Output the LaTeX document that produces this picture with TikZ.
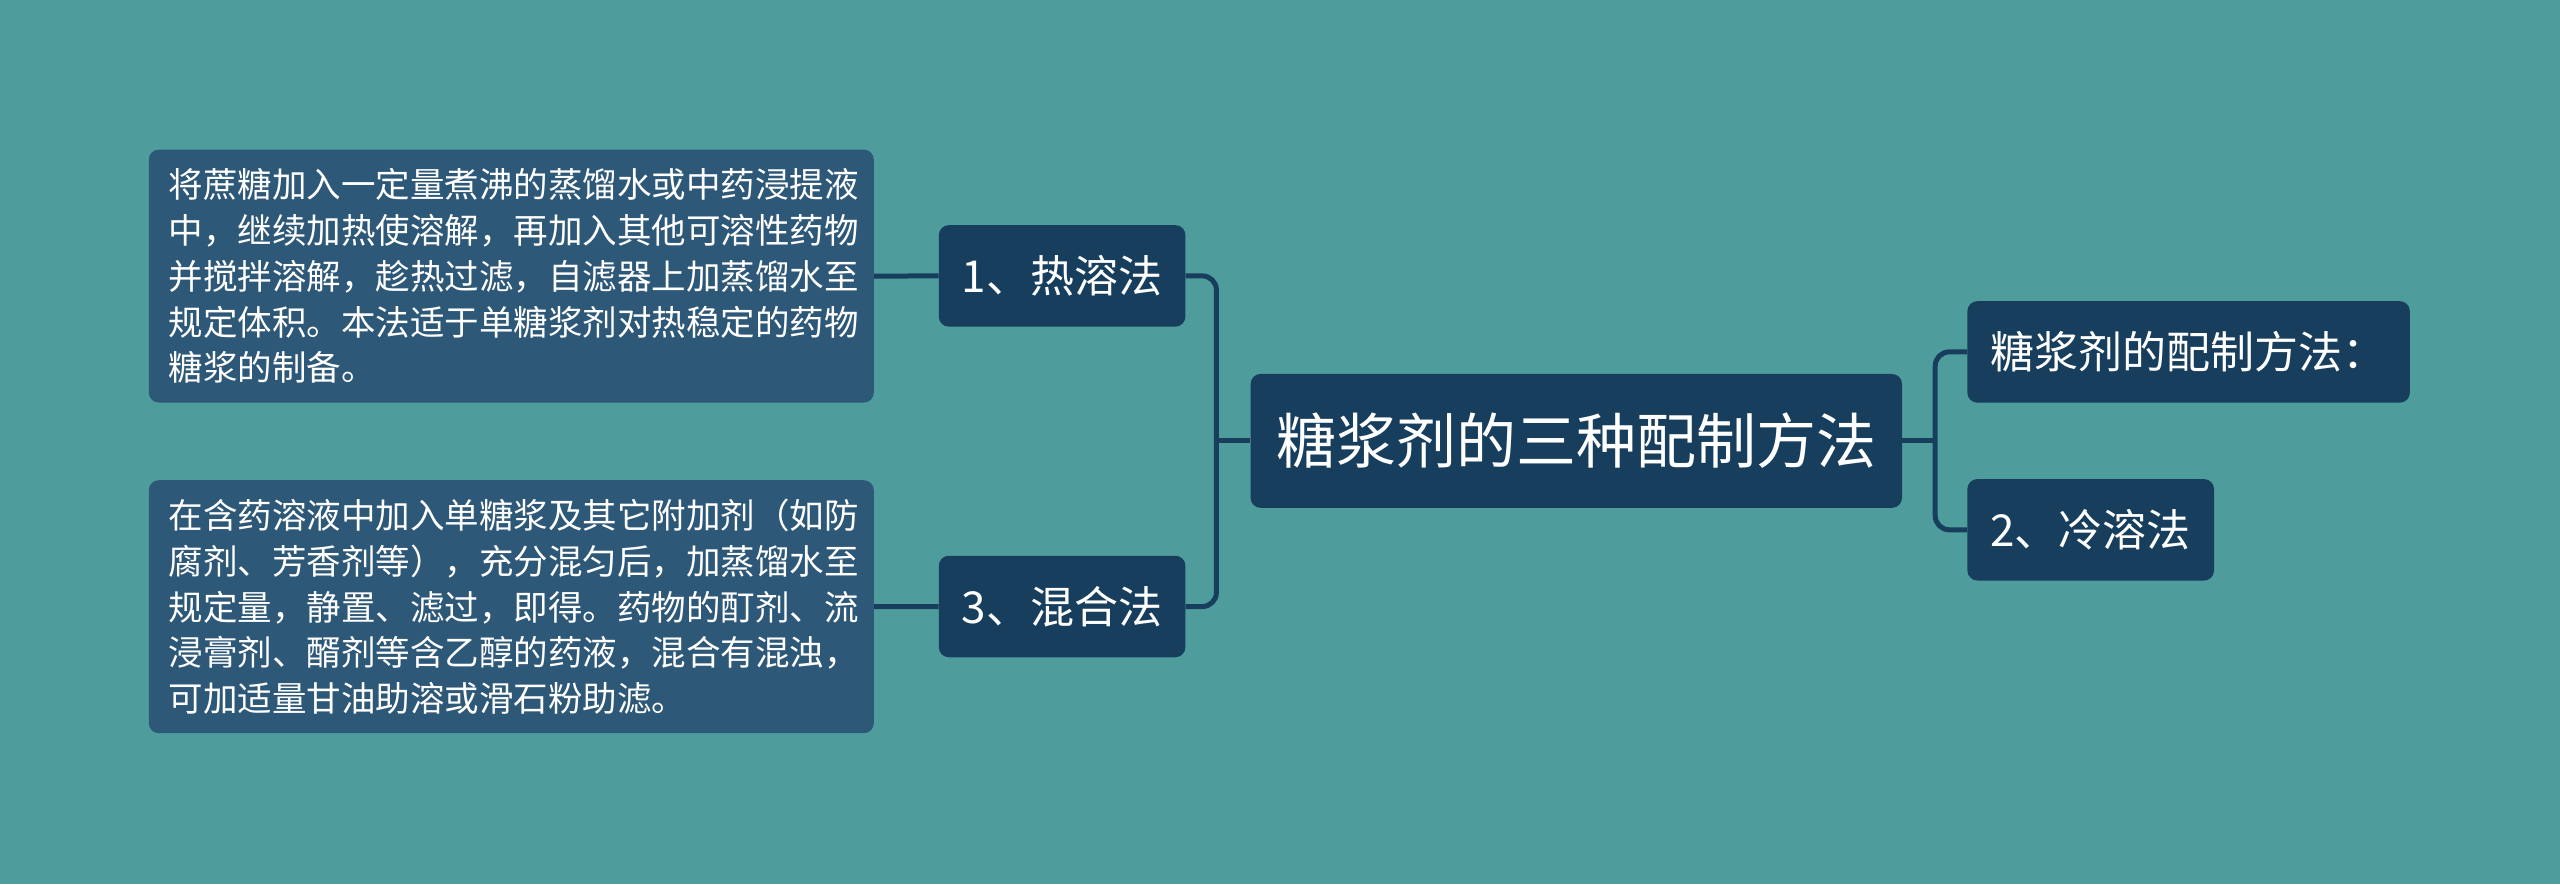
\documentclass[tikz,border=0pt]{standalone}
\usepackage{fontspec}
\setmainfont{Noto Sans CJK SC}
\usetikzlibrary{positioning, calc}
\definecolor{bgteal}{HTML}{4F9C9C}
\definecolor{topicblue}{HTML}{183E5E}
\definecolor{leafblue}{HTML}{2E5878}
\definecolor{linkblue}{HTML}{183E5E}

\begin{document}
\begin{tikzpicture}[x=1pt,y=-1pt,
  topic/.style={fill=topicblue,text=white,rounded corners=10pt,inner sep=0pt,
    minimum width=246.6pt,minimum height=101.5pt,font=\fontsize{44}{52}\selectfont},
  leaf/.style={fill=leafblue,text=white,rounded corners=10pt,inner xsep=20pt,inner ysep=0pt,
    anchor=north west,text width=685pt,align=left,minimum height=253pt,
    font=\fontsize{34.5}{45.7}\selectfont},
  link/.style={draw=linkblue,line width=5pt,rounded corners=14pt}]
\useasboundingbox (0,0) rectangle (2560,884);
\fill[bgteal] (0,0) rectangle (2560,884);

\path 	(1576.3,440.9) node[topic,minimum width=651.4pt,minimum height=133.9pt,
		font=\fontsize{60}{70}\selectfont](c){糖浆剂的三种配制方法}
		(1062.1,275.9) node[topic](n1){1、热溶法}
		(1062.1,606.5) node[topic](n3){3、混合法}
		(2188.6,351.9) node[topic,minimum width=442.5pt](m1){糖浆剂的配制方法：}
		(2090.7,529.8) node[topic](m2){2、冷溶法};

\path 	(148.6,149.4) node[leaf](t1){将蔗糖加入一定量煮沸的蒸馏水或中药浸提液\\
		中，继续加热使溶解，再加入其他可溶性药物\\
		并搅拌溶解，趁热过滤，自滤器上加蒸馏水至\\
		规定体积。本法适于单糖浆剂对热稳定的药物\\
		糖浆的制备。}
		(148.6,480.0) node[leaf](t3){在含药溶液中加入单糖浆及其它附加剂（如防\\
		腐剂、芳香剂等），充分混匀后，加蒸馏水至\\
		规定量，静置、滤过，即得。药物的酊剂、流\\
		浸膏剂、醑剂等含乙醇的药液，混合有混浊，\\
		可加适量甘油助溶或滑石粉助滤。};

\coordinate (lj) at ($(c.west)+(-34,0)$);
\coordinate (rj) at ($(c.east)+(33,0)$);

\draw[link] (n1.east) -| (lj) |- (n3.east);
\draw[link] (c.west) -- (lj);
\draw[link] (m1.west) -| (rj) |- (m2.west);
\draw[link] (c.east) -- (rj);
\draw[link] (t1.east) -- (n1.west);
\draw[link] (t3.east) -- (n3.west);
\end{tikzpicture}
\end{document}
